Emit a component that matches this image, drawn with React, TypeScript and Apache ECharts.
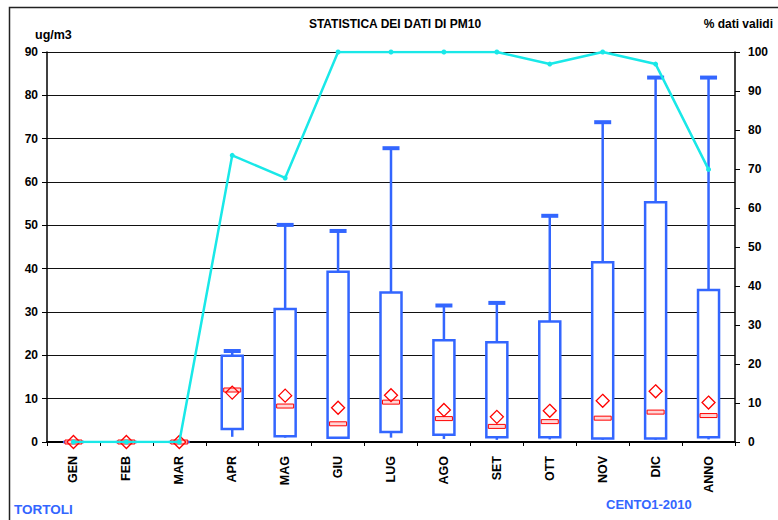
import React, { useEffect, useRef } from "react";
import * as echarts from "echarts";

const months = ["GEN", "FEB", "MAR", "APR", "MAG", "GIU", "LUG", "AGO", "SET", "OTT", "NOV", "DIC", "ANNO"];
const minVals = [0, 0, 0, 1.2, 1.0, 0.8, 1.0, 0.7, 0.5, 0.6, 0.5, 0.5, 0.6];
const q1Vals = [0, 0, 0, 3.0, 1.3, 1.0, 2.3, 1.7, 1.1, 1.1, 0.8, 0.8, 1.1];
const medianVals = [0, 0, 0, 12.0, 8.3, 4.2, 9.2, 5.4, 3.6, 4.7, 5.5, 6.9, 6.1];
const q3Vals = [0, 0, 0, 19.9, 30.7, 39.3, 34.5, 23.5, 23.0, 27.8, 41.5, 55.3, 35.1];
const maxVals = [0, 0, 0, 21.0, 50.1, 48.7, 67.8, 31.5, 32.1, 52.2, 73.8, 84.1, 84.1];
const meanVals = [0, 0, 0, 11.4, 10.7, 7.9, 10.8, 7.4, 5.8, 7.2, 9.5, 11.7, 9.1];
const validPct = [0, 0, 0, 73.5, 67.7, 100, 100, 100, 100, 96.9, 100, 96.9, 69.9];

const FONT = "Liberation Sans, Arial, sans-serif";
const BLUE = "#3366ff";
const RED = "#ff0000";

export default function App() {
  const ref = useRef<HTMLDivElement>(null);
  useEffect(() => {
    if (!ref.current) return;
    const chart = echarts.init(ref.current, null, { renderer: "svg" });
    const boxData = months.map((_, i) => [i, minVals[i], q1Vals[i], medianVals[i], q3Vals[i], maxVals[i], meanVals[i]]);
    const option: any = {
      animation: false,
      backgroundColor: "#ffffff",
      title: {
        text: "STATISTICA DEI DATI DI PM10",
        left: 390,
        top: 13,
        textAlign: "center",
        textStyle: { fontFamily: FONT, fontWeight: "bold", fontSize: 12, color: "#000" },
      },
      graphic: [
        {
          type: "rect",
          shape: { x: 9.5, y: 7.5, width: 900, height: 700 },
          style: { fill: "none", stroke: "#222", lineWidth: 1.5 },
          silent: true,
          z: -10,
        },
        {
          type: "text",
          left: 14,
          top: 502,
          style: { text: "TORTOLI", fill: BLUE, font: `bold 13.5px ${FONT}` },
        },
        {
          type: "text",
          left: 606,
          top: 498,
          style: { text: "CENTO1-2010", fill: BLUE, font: `bold 13px ${FONT}` },
        },
      ],
      grid: { left: 47, right: 43, top: 52, bottom: 78 },
      xAxis: {
        type: "category",
        data: months,
        boundaryGap: true,
        axisLine: { lineStyle: { color: "#000", width: 2 } },
        axisTick: { show: true, length: 4, lineStyle: { color: "#000" } },
        axisLabel: {
          rotate: 90,
          margin: 14,
          fontFamily: FONT,
          fontWeight: "bold",
          fontSize: 12.5,
          color: "#000",
          interval: 0,
        },
      },
      yAxis: [
        {
          type: "value",
          min: 0,
          max: 90,
          interval: 10,
          name: "ug/m3",
          nameLocation: "end",
          nameGap: 11,
          nameTextStyle: { fontFamily: FONT, fontWeight: "bold", fontSize: 12.5, color: "#000", align: "left", padding: [0, 0, 0, -12] },
          axisLine: { show: true, lineStyle: { color: "#000", width: 1.5 } },
          axisTick: { show: true, length: 5, lineStyle: { color: "#000" } },
          axisLabel: { margin: 9, fontFamily: FONT, fontWeight: "bold", fontSize: 12, color: "#000" },
          splitLine: { show: true, lineStyle: { color: "#111", width: 1 } },
        },
        {
          type: "value",
          min: 0,
          max: 100,
          interval: 10,
          position: "right",
          name: "% dati validi",
          nameLocation: "end",
          nameGap: 22,
          nameTextStyle: { fontFamily: FONT, fontWeight: "bold", fontSize: 12, color: "#000", align: "right", padding: [0, -38, 0, 0] },
          axisLine: { show: true, lineStyle: { color: "#000", width: 1.5 } },
          axisTick: { show: true, length: 5, lineStyle: { color: "#000" } },
          axisLabel: { margin: 13, fontFamily: FONT, fontWeight: "bold", fontSize: 12, color: "#000" },
          splitLine: { show: false },
        },
      ],
      series: [
        {
          type: "custom",
          name: "box",
          yAxisIndex: 0,
          z: 3,
          data: boxData,
          encode: { x: 0, y: [1, 2, 3, 4, 5, 6] },
          renderItem: (params: any, api: any) => {
            const i = api.value(0);
            const pMin = api.coord([i, api.value(1)]);
            const pQ1 = api.coord([i, api.value(2)]);
            const pMed = api.coord([i, api.value(3)]);
            const pQ3 = api.coord([i, api.value(4)]);
            const pMax = api.coord([i, api.value(5)]);
            const pMean = api.coord([i, api.value(6)]);
            const cx = pMin[0];
            const bw = 21;
            const d = 6.5;
            return {
              type: "group",
              children: [
                {
                  type: "line",
                  shape: { x1: cx, y1: pMax[1], x2: cx, y2: pQ3[1] },
                  style: { stroke: BLUE, lineWidth: 2.5 },
                },
                {
                  type: "line",
                  shape: { x1: cx, y1: pQ1[1], x2: cx, y2: pMin[1] },
                  style: { stroke: BLUE, lineWidth: 2.5 },
                },
                {
                  type: "rect",
                  shape: { x: cx - 8.5, y: pMax[1] - 2, width: 17, height: 4 },
                  style: { fill: BLUE, stroke: null },
                },
                {
                  type: "rect",
                  shape: { x: cx - bw / 2, y: pQ3[1], width: bw, height: pQ1[1] - pQ3[1] },
                  style: { fill: "#ffffff", stroke: BLUE, lineWidth: 2.5 },
                },
                {
                  type: "rect",
                  shape: { x: cx - 8.5, y: pMed[1] - 2, width: 17, height: 4 },
                  style: { fill: "#ffd6d6", stroke: RED, lineWidth: 1 },
                },
                {
                  type: "polygon",
                  shape: {
                    points: [
                      [cx, pMean[1] - d],
                      [cx + d, pMean[1]],
                      [cx, pMean[1] + d],
                      [cx - d, pMean[1]],
                    ],
                  },
                  style: { fill: "none", stroke: RED, lineWidth: 1.3 },
                },
              ],
            };
          },
        },
        {
          type: "line",
          name: "% dati validi",
          yAxisIndex: 1,
          z: 5,
          data: validPct,
          symbol: "circle",
          symbolSize: 5,
          lineStyle: { color: "#19e8e8", width: 2.5 },
          itemStyle: { color: "#19e8e8" },
        },
      ],
    };
    chart.setOption(option);
    return () => chart.dispose();
  }, []);
  return <div ref={ref} style={{ position: "fixed", left: 0, top: 0, width: 778, height: 520 }} />;
}
